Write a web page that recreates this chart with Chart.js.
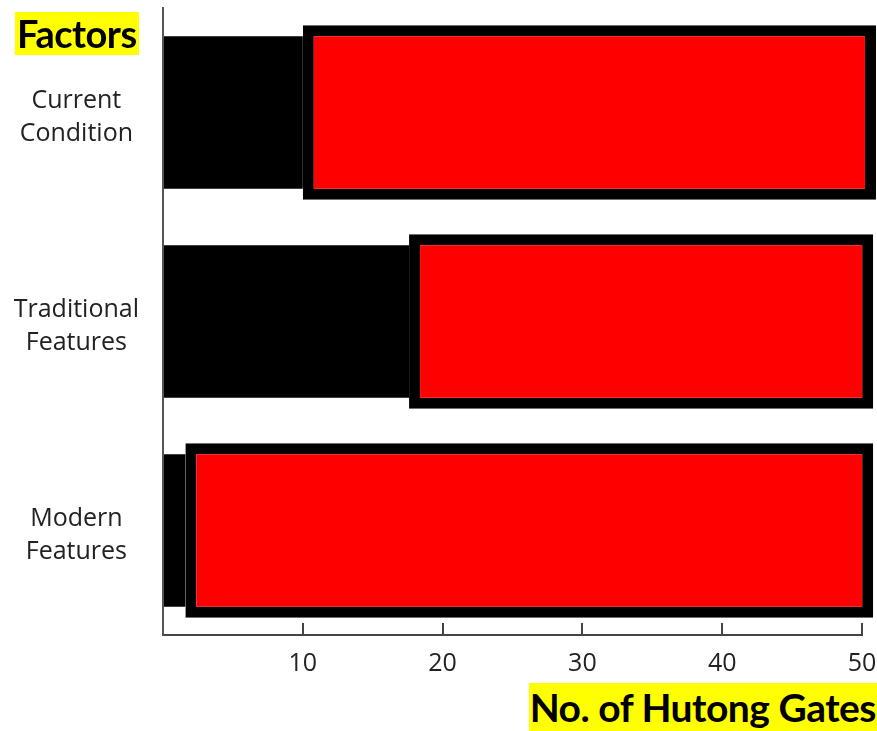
<!DOCTYPE html>
<html>
<head>
<meta charset="utf-8">
<script src="https://cdn.jsdelivr.net/npm/chart.js@4"></script>
<style>
  html, body { margin: 0; padding: 0; background: #fff; }
  #wrap { position: relative; width: 877px; height: 731px; }
  .tag {
    position: absolute;
    background: #ffff00;
    color: #000;
    font-family: Lato, "Open Sans", sans-serif;
    font-weight: bold;
    white-space: nowrap;
  }
  #ytitle { left: 15px; top: 12px; font-size: 38px; line-height: 43px; padding: 0 2px; letter-spacing: -0.5px; }
  #xtitle { right: 0px; top: 683px; font-size: 39px; line-height: 48px; padding: 0 1px; letter-spacing: -0.5px; }
</style>
</head>
<body>
<div id="wrap">
  <canvas id="myChart" width="877" height="731"></canvas>
  <div class="tag" id="ytitle">Factors</div>
  <div class="tag" id="xtitle">No. of Hutong Gates</div>
</div>
<script>
// factors and the number of gates
var factors = [['Current', 'Condition'], ['Traditional', 'Features'], ['Modern', 'Features']]
var blackVals = [10, 17.6, 1.6]
var redEnds = [51, 50.8, 50.8]
var xTicks = [10, 20, 30, 40, 50]

var labelFont = { family: '"Open Sans", "Noto Sans", sans-serif', size: 25, lineHeight: 1.3 }

var redData = factors.map((f, i) => [blackVals[i], redEnds[i]])

const ctx = document.getElementById('myChart')

var myChart = new Chart(ctx, {
    type: 'bar',
    data: {
        labels: factors,
        datasets: [
            {
                label: 'red',
                data: redData,
                backgroundColor: '#ff0000',
                borderColor: '#000000',
                borderWidth: 11,
                borderSkipped: false,
                barPercentage: 0.835,
                categoryPercentage: 1,
                grouped: false,
                clip: false,
                order: 0
            },
            {
                label: 'black',
                data: blackVals,
                backgroundColor: '#000000',
                borderWidth: 0,
                barPercentage: 0.73,
                categoryPercentage: 1,
                grouped: false,
                order: 1
            }
        ]
    },
    options: {
        indexAxis: 'y',
        responsive: false,
        animation: false,
        layout: { padding: { top: 8, right: 15, left: 0, bottom: 0 } },
        plugins: {
            legend: { display: false },
            tooltip: { enabled: false }
        },
        scales: {
            x: {
                min: 0,
                max: 50,
                afterFit: s => {
                    s.height = 96
                    s.paddingLeft = 0
                    s.paddingRight = 0
                },
                afterBuildTicks: s => {
                    s.ticks = [0].concat(xTicks).map(v => ({ value: v }))
                },
                border: { display: true, color: '#444', width: 2 },
                grid: {
                    display: true,
                    drawOnChartArea: false,
                    drawTicks: true,
                    tickLength: -12,
                    color: '#444',
                    lineWidth: 2
                },
                ticks: {
                    padding: 25,
                    color: '#222',
                    font: labelFont,
                    maxRotation: 0,
                    callback: v => v === 0 ? '' : v
                }
            },
            y: {
                afterFit: s => {
                    s.width = 163
                    s.paddingTop = 0
                    s.paddingBottom = 0
                },
                border: { display: true, color: '#555', width: 2 },
                grid: { display: false, drawTicks: false },
                ticks: {
                    crossAlign: 'center',
                    padding: 24,
                    labelOffset: 5,
                    color: '#222',
                    font: labelFont
                }
            }
        }
    }
})
</script>
</body>
</html>
